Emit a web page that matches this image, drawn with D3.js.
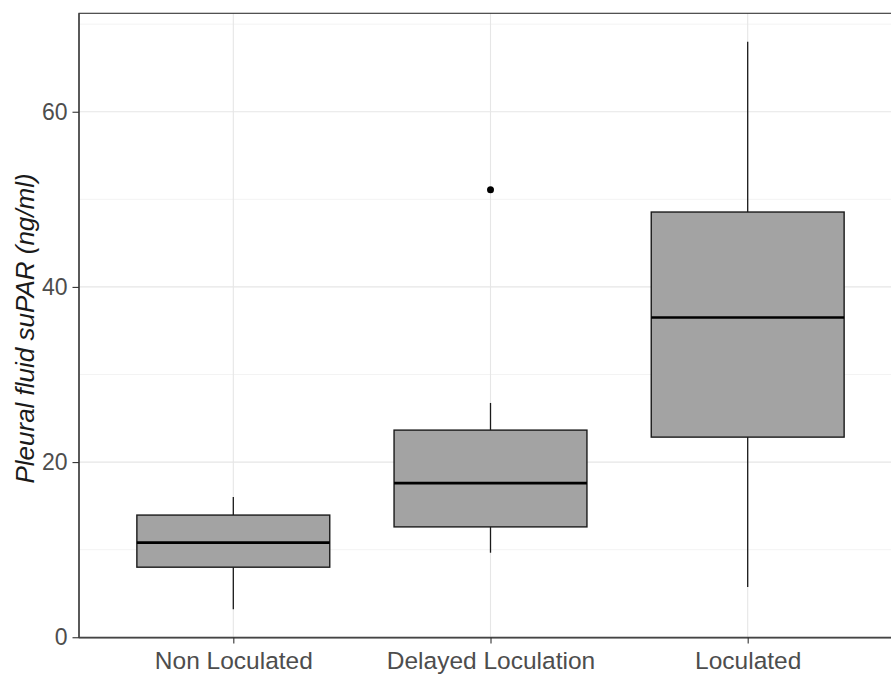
<!DOCTYPE html>
<html><head><meta charset="utf-8">
<script src="https://cdn.jsdelivr.net/npm/d3@7"></script>
<style>body{margin:0;background:#fff;}svg{display:block;font-family:"Liberation Sans",Arial,sans-serif;}</style>
</head><body>
<svg id="chart" width="891" height="677"></svg>
<script>
const categories = ["Non Loculated", "Delayed Loculation", "Loculated"];
const whiskerLow  = [3.2, 9.65, 5.75];
const q1          = [8.0, 12.6, 22.85];
const medians     = [10.8, 17.6, 36.5];
const q3          = [13.95, 23.65, 48.55];
const whiskerHigh = [16.0, 26.75, 68.0];
const outliers    = [[], [51.1], []];
const yTicks      = [0, 20, 40, 60];
const yMinorTicks = [10, 30, 50, 70];

const svg = d3.select("#chart");
const pLeft = 79, pTop = 13.3, pBottom = 637.6, pRight = 902;

const y = d3.scaleLinear().domain([-0.04, 71.24]).range([pBottom, pTop]);
const x = d3.scalePoint().domain(categories).range([pLeft, pRight]).padding(0.6);
const step = x.step();
const boxW = step * 0.75;

const data = categories.map((c, i) => ({c, lo: whiskerLow[i], q1: q1[i], med: medians[i], q3: q3[i], hi: whiskerHigh[i], out: outliers[i]}));

// grid
const g = svg.append("g");
g.selectAll(".minor").data(yMinorTicks).join("line")
  .attr("x1", pLeft).attr("x2", pRight).attr("y1", d => y(d)).attr("y2", d => y(d))
  .attr("stroke", "#EBEBEB").attr("stroke-width", 0.6);
g.selectAll(".major").data(yTicks).join("line")
  .attr("x1", pLeft).attr("x2", pRight).attr("y1", d => y(d)).attr("y2", d => y(d))
  .attr("stroke", "#E6E6E6").attr("stroke-width", 1.1);
g.selectAll(".vmajor").data(categories).join("line")
  .attr("x1", d => x(d)).attr("x2", d => x(d)).attr("y1", pTop).attr("y2", pBottom)
  .attr("stroke", "#E6E6E6").attr("stroke-width", 1.1);

// boxes
const b = svg.append("g");
data.forEach(d => {
  const cx = x(d.c);
  b.append("line").attr("x1", cx).attr("x2", cx).attr("y1", y(d.hi)).attr("y2", y(d.q3)).attr("stroke", "#1a1a1a").attr("stroke-width", 1.3);
  b.append("line").attr("x1", cx).attr("x2", cx).attr("y1", y(d.q1)).attr("y2", y(d.lo)).attr("stroke", "#1a1a1a").attr("stroke-width", 1.3);
  b.append("rect").attr("x", cx - boxW/2).attr("y", y(d.q3)).attr("width", boxW).attr("height", y(d.q1) - y(d.q3))
    .attr("fill", "#A3A3A3").attr("stroke", "#1a1a1a").attr("stroke-width", 1.4);
  b.append("line").attr("x1", cx - boxW/2).attr("x2", cx + boxW/2).attr("y1", y(d.med)).attr("y2", y(d.med)).attr("stroke", "#000").attr("stroke-width", 2.6);
  d.out.forEach(o => b.append("circle").attr("cx", cx).attr("cy", y(o)).attr("r", 3.5).attr("fill", "#000"));
});

// border
svg.append("rect").attr("x", pLeft).attr("y", pTop).attr("width", pRight - pLeft).attr("height", pBottom - pTop)
  .attr("fill", "none").attr("stroke", "#333").attr("stroke-width", 1.1);
svg.append("line").attr("x1", pLeft).attr("x2", pRight).attr("y1", pBottom).attr("y2", pBottom).attr("stroke", "#444").attr("stroke-width", 1.6);
svg.append("line").attr("x1", pLeft).attr("x2", pLeft).attr("y1", pTop).attr("y2", pBottom).attr("stroke", "#444").attr("stroke-width", 1.4);

// axes
const ya = svg.append("g").attr("transform", `translate(${pLeft},0)`)
  .call(d3.axisLeft(y).tickValues(yTicks).tickSize(6.5).tickPadding(5).tickFormat(d3.format("d")));
ya.select(".domain").remove();
ya.selectAll(".tick line").attr("stroke", "#333").attr("stroke-width", 1.1);
ya.selectAll(".tick text").attr("fill", "#4D4D4D").attr("font-size", 23).style("font-family", "Liberation Sans, Arial, sans-serif");

const xa = svg.append("g").attr("transform", `translate(0,${pBottom})`)
  .call(d3.axisBottom(x).tickSize(6).tickPadding(8.5));
xa.select(".domain").remove();
xa.selectAll(".tick line").attr("stroke", "#333").attr("stroke-width", 1.1);
xa.selectAll(".tick text").attr("fill", "#4D4D4D").attr("font-size", 24.5).style("font-family", "Liberation Sans, Arial, sans-serif");

svg.append("text").attr("transform", `translate(34,${(pTop + pBottom)/2 + 3}) rotate(-90)`)
  .attr("text-anchor", "middle").attr("font-size", 26).attr("font-style", "italic").attr("fill", "#1a1a1a")
  .text("Pleural fluid suPAR (ng/ml)");
</script>
</body></html>
